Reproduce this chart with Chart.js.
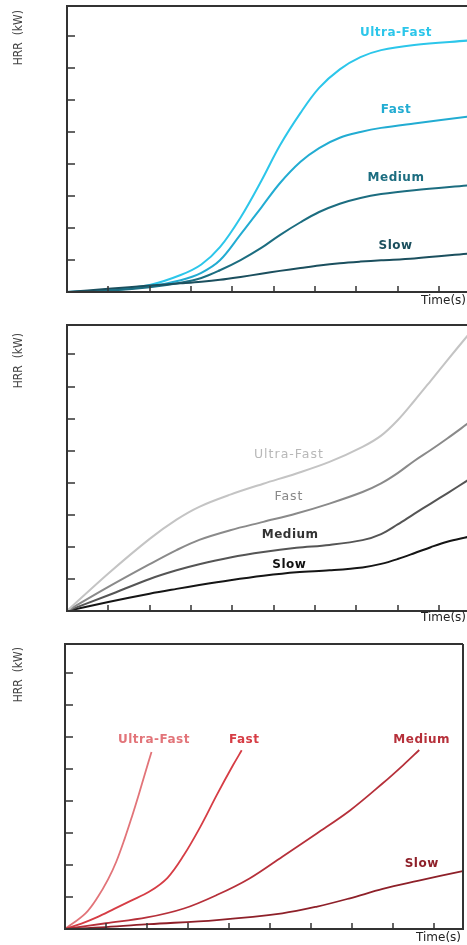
<!DOCTYPE html>
<html>
<head>
<meta charset="utf-8">
<script src="https://cdn.jsdelivr.net/npm/chart.js@4.4.0/dist/chart.umd.min.js"></script>
<style>
  html, body { margin: 0; padding: 0; background: #fff; width: 467px; height: 945px; overflow: hidden; }
  canvas { position: absolute; left: 0; }
</style>
</head>
<body>
<canvas id="c1" width="467" height="315" style="top:0"></canvas>
<canvas id="c2" width="467" height="318" style="top:315px"></canvas>
<canvas id="c3" width="467" height="312" style="top:633px"></canvas>
<script>
// ─── Data ────────────────────────────────────────────────────────────────────
const seriesNames = ['Ultra-Fast', 'Fast', 'Medium', 'Slow'];
const xTicks = [1, 2, 3, 4, 5, 6, 7, 8, 9];
const yTicks = [1, 2, 3, 4, 5, 6, 7, 8];

// panel 1 : S-shaped growth (cyan)
const time1   = [0, 1, 2, 2.75, 3.25, 3.7, 4.2, 4.7, 5.15, 5.65, 6.1, 6.6, 7.1, 7.6, 8.4, 9.7];
const ultra1  = [0, 0.06, 0.22, 0.53, 0.86, 1.40, 2.33, 3.47, 4.58, 5.60, 6.38, 6.96, 7.34, 7.56, 7.72, 7.86];
const fast1   = [0, 0.05, 0.18, 0.37, 0.60, 0.99, 1.80, 2.64, 3.40, 4.07, 4.50, 4.82, 5.00, 5.13, 5.27, 5.48];
const medium1 = [0, 0.04, 0.15, 0.29, 0.44, 0.68, 1.00, 1.38, 1.78, 2.18, 2.50, 2.76, 2.94, 3.06, 3.18, 3.33];
const slow1   = [0, 0.10, 0.20, 0.27, 0.32, 0.38, 0.47, 0.57, 0.66, 0.75, 0.83, 0.90, 0.95, 0.99, 1.05, 1.20];

// panel 2 : plateau then rise (grey)
const time2   = [0, 1, 2, 2.65, 3.2, 3.95, 4.75, 5.55, 6.35, 7.15, 7.6, 8, 8.4, 8.8, 9.2, 9.7];
const ultra2  = [0, 1.17, 2.25, 2.85, 3.25, 3.63, 3.97, 4.29, 4.65, 5.12, 5.47, 5.95, 6.55, 7.18, 7.82, 8.60];
const fast2   = [0, 0.75, 1.46, 1.90, 2.22, 2.52, 2.78, 3.04, 3.35, 3.71, 3.98, 4.30, 4.68, 5.02, 5.38, 5.85];
const medium2 = [0, 0.49, 1.00, 1.27, 1.46, 1.67, 1.84, 1.97, 2.06, 2.21, 2.40, 2.70, 3.03, 3.35, 3.67, 4.08];
const slow2   = [0, 0.28, 0.54, 0.69, 0.81, 0.96, 1.10, 1.21, 1.27, 1.36, 1.47, 1.62, 1.80, 1.99, 2.16, 2.31];

// panel 3 : t-squared growth (red)
const ultraT3  = [0, 0.5, 0.8, 1.05, 1.25, 1.45, 1.63, 1.8, 1.95, 2.11];
const ultra3   = [0, 0.49, 1.00, 1.55, 2.10, 2.80, 3.50, 4.20, 4.85, 5.53];
const fastT3   = [0, 0.4, 0.8, 1.2, 1.6, 2.05, 2.5, 2.9, 3.3, 3.7, 4.1, 4.31];
const fast3    = [0, 0.17, 0.38, 0.63, 0.88, 1.16, 1.60, 2.31, 3.19, 4.18, 5.12, 5.58];
const mediumT3 = [0, 1, 2, 2.9, 3.7, 4.5, 5.3, 6.15, 6.95, 7.75, 8.25, 8.64];
const medium3  = [0, 0.18, 0.36, 0.64, 1.06, 1.58, 2.26, 2.99, 3.70, 4.55, 5.12, 5.59];
const slowT3   = [0, 1, 2.05, 3.7, 5.3, 6.15, 6.95, 7.75, 8.6, 9.7];
const slow3    = [0, 0.06, 0.15, 0.28, 0.49, 0.70, 0.96, 1.25, 1.50, 1.81];

// ─── Helpers ─────────────────────────────────────────────────────────────────
Chart.defaults.font.family = 'DejaVu Sans';

const pts = (xs, ys) => xs.map((t, i) => ({ x: t, y: ys[i] }));

function line(data, color, width) {
  return {
    data, borderColor: color, borderWidth: width,
    pointRadius: 0, fill: false,
    tension: 0.35,
  };
}

// axis frame, inward ticks, axis titles and series labels
const framePlugin = {
  id: 'frame',
  afterDatasetsDraw(chart, args, o) {
    const { ctx, chartArea: a, scales: { x, y } } = chart;
    ctx.save();
    ctx.strokeStyle = '#333';
    ctx.lineWidth = 2;
    ctx.beginPath();
    ctx.moveTo(a.right, a.top); ctx.lineTo(a.left, a.top);
    ctx.lineTo(a.left, a.bottom); ctx.lineTo(a.right, a.bottom);
    if (o.rightEdge) ctx.lineTo(a.right, a.top);
    ctx.stroke();

    ctx.lineWidth = 1.5;
    ctx.beginPath();
    xTicks.forEach(v => { const px = Math.round(x.getPixelForValue(v)); ctx.moveTo(px, a.bottom); ctx.lineTo(px, a.bottom - 6); });
    yTicks.forEach(v => { const py = Math.round(y.getPixelForValue(v)); ctx.moveTo(a.left, py); ctx.lineTo(a.left + 8, py); });
    ctx.stroke();

    // y title, rotated
    ctx.fillStyle = '#444';
    ctx.font = '12px "DejaVu Sans Condensed", "DejaVu Sans"';
    ctx.translate(18.5, a.top + o.titleOffset);
    ctx.rotate(-Math.PI / 2);
    ctx.textAlign = 'right';
    ctx.textBaseline = 'middle';
    ctx.fillText('HRR  (kW)', 0, 0);
    ctx.setTransform(1, 0, 0, 1, 0, 0);

    // x title
    ctx.fillStyle = '#222';
    ctx.font = '12px "DejaVu Sans"';
    ctx.textAlign = 'right';
    ctx.fillText('Time(s)', o.timeRight, a.bottom + o.timeOffset);

    // series labels
    ctx.textAlign = 'center';
    o.labels.forEach(l => {
      ctx.fillStyle = l.color;
      ctx.font = (l.bold ? 'bold 12px' : '12.5px') + ' "DejaVu Sans"';
      ctx.letterSpacing = l.bold ? '0.5px' : '1px';
      ctx.fillText(l.text, x.getPixelForValue(l.x), y.getPixelForValue(l.y));
    });
    ctx.restore();
  }
};

function makeChart(id, datasets, pad, xMax, yMax, frame) {
  return new Chart(document.getElementById(id), {
    type: 'line',
    data: { datasets },
    options: {
      responsive: false, animation: false,
      layout: { padding: pad },
      plugins: { legend: { display: false }, tooltip: { enabled: false }, frame },
      scales: {
        x: { type: 'linear', display: false, min: 0, max: xMax },
        y: { type: 'linear', display: false, min: 0, max: yMax },
      },
    },
    plugins: [framePlugin],
  });
}

// ─── Panel 1 ─────────────────────────────────────────────────────────────────
const cyan = ['#2cc6ea', '#22acd2', '#1c6d80', '#1b4f5e'];
makeChart('c1', [
  line(pts(time1, slow1), cyan[3], 2),
  line(pts(time1, medium1), cyan[2], 2),
  line(pts(time1, fast1), cyan[1], 2),
  line(pts(time1, ultra1), cyan[0], 2),
], { left: 67, top: 6, right: 0, bottom: 23 }, 9.678, 8.94, {
  rightEdge: false, titleOffset: 4, timeRight: 466, timeOffset: 8.5,
  labels: [
    { text: seriesNames[0], x: 7.96, y: 8.09, color: cyan[0], bold: true },
    { text: seriesNames[1], x: 7.96, y: 5.70, color: cyan[1], bold: true },
    { text: seriesNames[2], x: 7.96, y: 3.56, color: cyan[2], bold: true },
    { text: seriesNames[3], x: 7.95, y: 1.44, color: cyan[3], bold: true },
  ],
});

// ─── Panel 2 ─────────────────────────────────────────────────────────────────
const grey = ['#c4c4c4', '#8a8a8a', '#555555', '#151515'];
makeChart('c2', [
  line(pts(time2, ultra2), grey[0], 2),
  line(pts(time2, fast2), grey[1], 2),
  line(pts(time2, medium2), grey[2], 2),
  line(pts(time2, slow2), grey[3], 2),
], { left: 67, top: 10, right: 0, bottom: 22 }, 9.678, 8.92, {
  rightEdge: false, titleOffset: 8, timeRight: 466, timeOffset: 6.5,
  labels: [
    { text: seriesNames[0], x: 5.37, y: 4.88, color: '#b8b8b8', bold: false },
    { text: seriesNames[1], x: 5.37, y: 3.56, color: '#888', bold: false },
    { text: seriesNames[2], x: 5.40, y: 2.37, color: '#333', bold: true },
    { text: seriesNames[3], x: 5.38, y: 1.45, color: '#111', bold: true },
  ],
});

// ─── Panel 3 ─────────────────────────────────────────────────────────────────
const red = ['#e27479', '#d63d45', '#b6303a', '#8e2029'];
makeChart('c3', [
  line(pts(slowT3, slow3), red[3], 1.8),
  line(pts(mediumT3, medium3), red[2], 1.8),
  line(pts(fastT3, fast3), red[1], 1.8),
  line(pts(ultraT3, ultra3), red[0], 1.8),
], { left: 65, top: 11, right: 4, bottom: 16 }, 9.707, 8.90, {
  rightEdge: true, titleOffset: 3, timeRight: 461, timeOffset: 8.5,
  labels: [
    { text: seriesNames[0], x: 2.17, y: 5.90, color: red[0], bold: true },
    { text: seriesNames[1], x: 4.37, y: 5.90, color: red[1], bold: true },
    { text: seriesNames[2], x: 8.70, y: 5.90, color: red[2], bold: true },
    { text: seriesNames[3], x: 8.70, y: 2.03, color: red[3], bold: true },
  ],
});
</script>
</body>
</html>
